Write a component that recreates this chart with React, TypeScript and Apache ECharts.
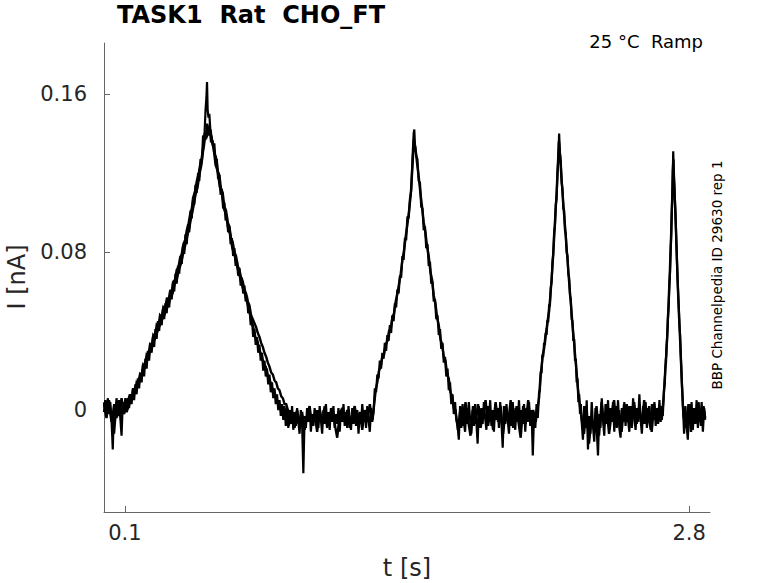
import React, { useEffect, useRef } from "react";
import * as echarts from "echarts";

// Sweeps: [time ms, current pA]
const sweep1: number[][] = [
  [0,-1],[6,5],[12,-3],[18,6],[24,-2],[30,4],[36,-5],[42,-20],[48,3],[54,-3],[60,6],[66,-2],[72,5],[78,-4],[84,-13],[90,4],[96,-2],[102,6],[108,0],
  [114,6],[120,1],[126,8],[132,3],[138,11],[144,5],[150,13],[156,8],[162,16],[168,11],[174,19],[180,14],[186,23],[192,17],[198,26],[204,21],[210,30],[216,25],[222,34],[228,29],[234,37],[240,32],[246,41],[252,36],[258,45],[264,40],[270,48],[276,43],[282,51],[288,46],[294,54],[300,49],[306,57],[312,52],[318,61],[324,56],[330,65],[336,60],[342,69],[348,64],[354,73],[360,69],[366,78],[372,74],[378,83],[384,79],[390,89],[396,84],[402,94],[408,90],[414,101],[420,97],[426,108],[432,104],[438,114],[444,110],[450,120],[456,116],[462,127],[468,125],[474,139],[480,137],[486,152],[490,158],[493,166],[496,152],[500,148],[504,150],[510,140],[516,138],[522,133],
  [528,135],[534,125],[540,127],[546,117],[552,119],[558,109],[564,112],[570,102],[576,105],[582,96],[588,99],[594,90],[600,93],[606,84],[612,87],[618,78],[624,82],[630,73],[636,76],[642,68],[648,72],[654,63],[660,67],[666,59],[672,63],[678,55],[684,58],[690,49],[696,52],[702,43],[708,46],[714,37],[720,41],[726,33],[732,37],[738,29],[744,33],[750,25],[756,29],[762,20],[768,25],[774,17],[780,21],[786,13],[792,18],[798,9],[804,14],[810,6],[816,11],[822,3],[828,8],[834,0],[840,5],[846,-3],[852,3],[858,-5],[864,2],[870,-8],[876,1],
  [882,-9],[888,0],[894,-7],[900,2],[906,-10],[912,-1],[918,-8],[924,1],[930,-6],[936,-12],[942,0],[948,-7],[954,-32],[960,-3],[966,-9],[972,1],[978,-6],[984,2],[990,-11],[996,-2],[1002,-8],[1008,1],[1014,-6],[1020,0],[1026,-9],[1032,2],[1038,-5],[1044,-12],[1050,0],[1056,-7],[1062,3],[1068,-8],[1074,-1],[1080,-10],[1086,1],[1092,-6],[1098,2],[1104,-9],[1110,-2],[1116,-7],[1122,1],[1128,-11],[1134,0],[1140,-6],[1146,3],[1152,-8],[1158,-1],[1164,-9],[1170,2],[1176,-5],[1182,-10],[1188,1],[1194,-7],[1200,2],[1206,-8],[1212,0],[1218,-12],[1224,-2],[1230,-7],[1236,3],[1242,-6],[1248,0],[1254,-9],[1260,2],[1266,-5],[1272,-11],[1278,1],[1284,-6],[1290,-1],
  [1296,11],[1302,9],[1308,18],[1314,16],[1320,25],[1326,21],[1332,29],[1338,26],[1344,34],[1350,30],[1356,38],[1362,35],[1368,43],[1374,39],[1380,48],[1386,45],[1392,54],[1398,52],[1404,61],[1410,59],[1416,68],[1422,67],[1428,78],[1434,76],[1440,87],[1446,86],[1452,98],[1458,97],[1464,107],[1470,111],[1476,127],[1482,140],[1485,142],[1488,134],
  [1494,129],[1500,127],[1506,116],[1512,115],[1518,103],[1524,102],[1530,91],[1536,93],[1542,82],[1548,84],[1554,73],[1560,75],[1566,64],[1572,65],[1578,55],[1584,56],[1590,46],[1596,48],[1602,38],[1608,41],[1614,31],[1620,34],[1626,24],[1632,27],[1638,17],[1644,21],[1650,10],[1656,14],[1662,3],[1668,8],[1674,-2],[1680,4],[1686,-5],
  [1692,-8],[1698,-15],[1704,2],[1710,-9],[1716,3],[1722,-6],[1728,-11],[1734,1],[1740,-7],[1746,4],[1752,-5],[1758,-12],[1764,0],[1770,-8],[1776,3],[1782,-6],[1788,-17],[1794,2],[1800,-9],[1806,1],[1812,-7],[1818,4],[1824,-4],[1830,-10],[1836,2],[1842,-6],[1848,5],[1854,-8],[1860,0],[1866,-11],[1872,3],[1878,-5],[1884,1],[1890,-9],[1896,4],[1902,-6],[1908,-19],[1914,2],[1920,-7],[1926,3],[1932,-5],[1938,-12],[1944,1],[1950,-8],[1956,4],[1962,-4],[1968,-10],[1974,2],[1980,-6],[1986,5],[1992,-9],[1998,0],[2004,-7],[2010,3],[2016,-11],[2022,1],[2028,-6],[2034,4],[2040,-8],[2046,0],[2052,-23],[2058,-2],[2064,-9],[2070,3],[2076,-4],
  [2082,9],[2086,10],[2090,19],[2094,19],[2098,28],[2102,27],[2106,34],[2110,33],[2114,39],[2118,38],[2122,45],[2126,45],[2130,53],[2134,53],[2138,62],[2142,65],[2146,75],[2150,79],[2154,90],[2158,93],[2162,104],[2166,107],[2170,120],[2174,127],[2178,140],
  [2182,130],[2186,126],[2190,115],[2194,112],[2198,102],[2202,101],[2206,91],[2210,89],[2214,80],[2218,78],[2222,69],[2226,67],[2230,58],[2234,56],[2238,46],[2242,45],[2246,35],[2250,36],[2254,25],[2258,26],[2262,14],[2266,16],[2270,4],[2274,8],[2278,-2],[2282,3],[2286,-6],
  [2292,-15],[2298,2],[2304,-9],[2310,5],[2316,-20],[2322,-3],[2328,-12],[2334,4],[2340,-8],[2346,-16],[2352,1],[2358,-10],[2364,-23],[2370,-2],[2376,-9],[2382,6],[2388,-5],[2394,-13],[2400,3],[2406,-7],[2412,5],[2418,-10],[2424,1],[2430,-6],[2436,4],[2442,-11],[2448,2],[2454,-7],[2460,5],[2466,-9],[2472,-14],[2478,1],[2484,-6],[2490,4],[2496,-8],[2502,3],[2508,-5],[2514,-11],[2520,2],[2526,-7],[2532,6],[2538,-4],[2544,-10],[2550,1],[2556,-6],[2562,8],[2568,-5],[2574,-12],[2580,2],[2586,-7],[2592,4],[2598,-9],[2604,1],[2610,-6],[2616,-10],[2622,3],[2628,-5],[2634,4],[2640,-8],[2646,1],[2652,-7],[2658,5],[2664,-6],[2670,2],[2674,-3],
  [2679,8],[2682,14],[2685,18],[2688,25],[2691,28],[2694,36],[2697,41],[2700,49],[2703,55],[2706,65],[2709,70],[2712,82],[2715,90],[2718,103],[2721,114],[2724,131],[2727,119],[2730,113],[2733,104],[2736,96],[2739,85],[2742,75],[2745,66],[2748,58],[2751,51],[2754,43],[2757,38],[2760,28],[2763,21],[2766,12],[2769,6],[2772,-2],
  [2776,-12],[2782,2],[2788,-8],[2794,-15],[2800,3],[2806,-6],[2812,4],[2818,-10],[2824,1],[2830,-7],[2836,5],[2842,-9],[2848,0],[2854,-6],[2860,4],[2866,-11],[2872,1],[2877,-5],
];

const sweep2: number[][] = [
  [0,3],[12,-4],[24,5],[36,-3],[48,-12],[60,4],[72,-3],[84,6],[96,-2],[108,4],
  [116,5],[124,8],[132,5],[140,11],[148,9],[156,14],[164,13],[172,18],[180,17],[188,23],[196,22],[204,28],[212,27],[220,33],[228,32],[236,38],[244,37],[252,43],[260,42],[268,48],[276,47],[284,52],[292,51],[300,56],[308,55],[316,60],[324,60],[332,65],[340,66],[348,71],[356,72],[364,77],[372,79],[380,84],[388,86],[396,91],[404,94],[412,99],[420,102],[428,108],[436,111],[444,116],[452,119],[460,124],[468,128],[476,134],[482,140],[488,137],[494,145],[500,139],[506,143],[512,136],
  [520,136],[528,130],[536,128],[544,121],[552,119],[560,112],[568,110],[576,103],[584,101],[592,95],[600,93],[608,87],[616,85],[624,80],[632,78],[640,73],[648,71],[656,67],[664,65],[672,61],[680,59],[688,55],[696,53],[704,48],[712,46],[720,44],[728,42],[736,39],[744,37],[752,34],[760,32],[768,29],[776,27],[784,24],[792,22],[800,19],[808,18],[816,15],[824,14],[832,11],[840,10],[848,7],[856,6],[864,3],[872,3],[880,0],[888,-1],[896,-5],
  [900,-2],[912,-9],[924,0],[936,-7],[948,-1],[960,-10],[972,-3],[984,2],[996,-8],[1008,-2],[1020,-11],[1032,0],[1044,-6],[1056,2],[1068,-9],[1080,-3],[1092,1],[1104,-7],[1116,-14],[1128,-2],[1140,1],[1152,-6],[1164,0],[1176,-9],[1188,-3],[1200,2],[1212,-7],[1224,-1],[1236,-10],[1248,0],[1260,-6],[1272,3],[1284,-5],
  [1292,2],[1300,10],[1308,14],[1316,20],[1324,22],[1332,27],[1340,28],[1348,33],[1356,35],[1364,40],[1372,41],[1380,47],[1388,49],[1396,55],[1404,59],[1412,64],[1420,69],[1428,76],[1436,81],[1444,88],[1452,94],[1460,101],[1468,109],[1476,123],[1483,137],
  [1490,133],[1498,125],[1506,118],[1514,110],[1522,103],[1530,95],[1538,90],[1546,83],[1554,78],[1562,70],[1570,66],[1578,58],[1586,54],[1594,47],[1602,43],[1610,36],[1618,33],[1626,27],[1634,25],[1642,18],[1650,16],[1658,9],[1666,7],[1674,1],[1682,0],
  [1694,-10],[1706,1],[1718,-8],[1730,4],[1742,-5],[1754,-13],[1766,2],[1778,-7],[1790,3],[1802,-9],[1814,-2],[1826,5],[1838,-8],[1850,0],[1862,-10],[1874,4],[1886,-6],[1898,2],[1910,-12],[1922,0],[1934,-7],[1946,5],[1958,-9],[1970,1],[1982,-5],[1994,-14],[2006,2],[2018,-7],[2030,5],[2042,-8],[2054,0],[2066,-6],[2076,2],
  [2082,6],[2088,16],[2094,22],[2100,28],[2106,31],[2112,37],[2118,41],[2124,46],[2130,50],[2136,58],[2142,66],[2148,76],[2154,87],[2160,99],[2166,110],[2172,124],[2177,136],
  [2183,128],[2189,118],[2195,109],[2201,100],[2207,92],[2213,83],[2219,75],[2225,66],[2231,58],[2237,50],[2243,42],[2249,35],[2255,27],[2261,20],[2267,12],[2273,6],[2279,1],[2285,-4],
  [2297,-12],[2309,1],[2321,-17],[2333,-4],[2345,-10],[2357,2],[2369,-13],[2381,4],[2393,-8],[2405,1],[2417,-12],[2429,-2],[2441,5],[2453,-9],[2465,0],[2477,-11],[2489,3],[2501,-6],[2513,2],[2525,-9],[2537,4],[2549,-7],[2561,1],[2573,-8],[2585,5],[2597,-6],[2609,2],[2621,-11],[2633,3],[2645,-7],[2657,2],[2669,-5],
  [2677,5],[2680,10],[2683,13],[2686,21],[2689,24],[2692,32],[2695,36],[2698,46],[2701,51],[2704,60],[2707,67],[2710,77],[2713,85],[2716,97],[2719,107],[2722,121],[2725,127],[2728,116],[2731,108],[2734,101],[2737,91],[2740,82],[2743,72],[2746,63],[2749,55],[2752,47],[2755,40],[2758,33],[2761,25],[2764,17],[2767,10],[2770,3],[2773,-3],
  [2785,-9],[2797,3],[2809,-11],[2821,0],[2833,-6],[2845,4],[2857,-8],[2869,2],[2877,-4],
];

const sweep3: number[][] = [
  [0,4],[12,-2],[24,3],[36,-6],[48,2],[60,-4],[72,5],[84,-2],[96,3],[108,-1],
  [118,2],[128,6],[138,7],[148,11],[158,12],[168,16],[178,17],[188,21],[198,23],[208,26],[218,29],[228,31],[238,35],[248,37],[258,41],[268,43],[278,46],[288,48],[298,51],[308,53],[318,57],[328,59],[338,64],[348,66],[358,71],[368,74],[378,79],[388,83],[398,88],[408,92],[418,98],[428,103],[438,109],[448,113],[458,120],[466,124],[474,131],[480,135],[486,141],[492,138],[498,144],[504,140],[510,142],[516,136],
  [524,133],[534,124],[544,121],[554,113],[564,110],[574,102],[584,99],[594,92],[604,89],[614,82],[624,79],[634,74],[644,70],[654,66],[664,62],[674,59],[684,55],[694,51],[704,46],[714,42],[724,37],[734,35],[744,30],[754,28],[764,23],[774,22],[784,17],[794,15],[804,11],[814,10],[824,6],[834,4],[844,1],[854,0],[864,-4],[874,-3],[884,-8],[896,-2],[908,-9],[920,-1],[932,-7],[944,-2],[956,-10],[968,-3],
];

const xTicks = [0.1, 2.8];
const yTicks = [0, 0.08, 0.16];
const xRange = [0, 2.9];
const yRange = [-0.0516, 0.1858];

const titleText = "TASK1  Rat  CHO_FT";
const conditionText = "25 °C  Ramp";
const sourceText = "BBP Channelpedia ID 29630 rep 1";
const xName = "t [s]";
const yName = "I [nA]";

const toData = (s: number[][]) => s.map(([ms, pA]) => [ms / 1000, pA / 1000]);

const FONT = "DejaVu Sans";

export default function App() {
  const ref = useRef<HTMLDivElement>(null);
  useEffect(() => {
    if (!ref.current) return;
    const chart = echarts.init(ref.current, null, { renderer: "svg" });
    const lineSeries = (s: number[][], w: number) => ({
      type: "line",
      data: toData(s),
      showSymbol: false,
      symbol: "none",
      lineStyle: { color: "#000", width: w, join: "miter", miterLimit: 3 },
      itemStyle: { color: "#000" },
      silent: true,
    });
    chart.setOption({
      animation: false,
      grid: { left: 104, right: 68, top: 43, bottom: 71, containLabel: false },
      xAxis: {
        type: "value",
        min: xRange[0],
        max: xRange[1],
        splitLine: { show: false },
        axisLine: { show: true, onZero: false, lineStyle: { color: "#666", width: 1 } },
        axisTick: { show: true, inside: true, length: 6, customValues: xTicks, lineStyle: { color: "#666" } },
        axisLabel: {
          customValues: xTicks,
          margin: 10,
          color: "#262626",
          fontFamily: FONT,
          fontSize: 21,
          formatter: (v: number) => String(Math.round(v * 10) / 10),
        },
      },
      yAxis: {
        type: "value",
        min: yRange[0],
        max: yRange[1],
        splitLine: { show: false },
        axisLine: { show: true, onZero: false, lineStyle: { color: "#666", width: 1 } },
        axisTick: { show: true, inside: true, length: 6, customValues: yTicks, lineStyle: { color: "#666" } },
        axisLabel: {
          customValues: yTicks,
          margin: 17,
          color: "#262626",
          fontFamily: FONT,
          fontSize: 21,
          formatter: (v: number) => String(Math.round(v * 100) / 100),
        },
      },
      series: [lineSeries(sweep2, 2.4), lineSeries(sweep3, 2.4), lineSeries(sweep1, 2.2)],
      graphic: [
        {
          type: "text",
          left: 117,
          top: 3,
          style: { text: titleText, fontFamily: FONT, fontSize: 24, fontWeight: "bold", fill: "#000" },
        },
        {
          type: "text",
          x: 703,
          y: 41,
          style: { text: conditionText, fontFamily: FONT, fontSize: 18, fill: "#000", textAlign: "right", textVerticalAlign: "middle" },
        },
        {
          type: "text",
          x: 717,
          y: 275,
          rotation: Math.PI / 2,
          style: { text: sourceText, fontFamily: FONT, fontSize: 13.5, fill: "#000", textAlign: "center", textVerticalAlign: "middle" },
        },
        {
          type: "text",
          x: 407,
          y: 568,
          style: { text: xName, fontFamily: FONT, fontSize: 24, fill: "#262626", textAlign: "center", textVerticalAlign: "middle" },
        },
        {
          type: "text",
          x: 17,
          y: 277,
          rotation: Math.PI / 2,
          style: { text: yName, fontFamily: FONT, fontSize: 24, fill: "#262626", textAlign: "center", textVerticalAlign: "middle" },
        },
      ],
    });
    return () => chart.dispose();
  }, []);
  return (
    <div
      ref={ref}
      style={{ position: "fixed", left: 0, top: 0, width: 778, height: 583, background: "#fff" }}
    />
  );
}
